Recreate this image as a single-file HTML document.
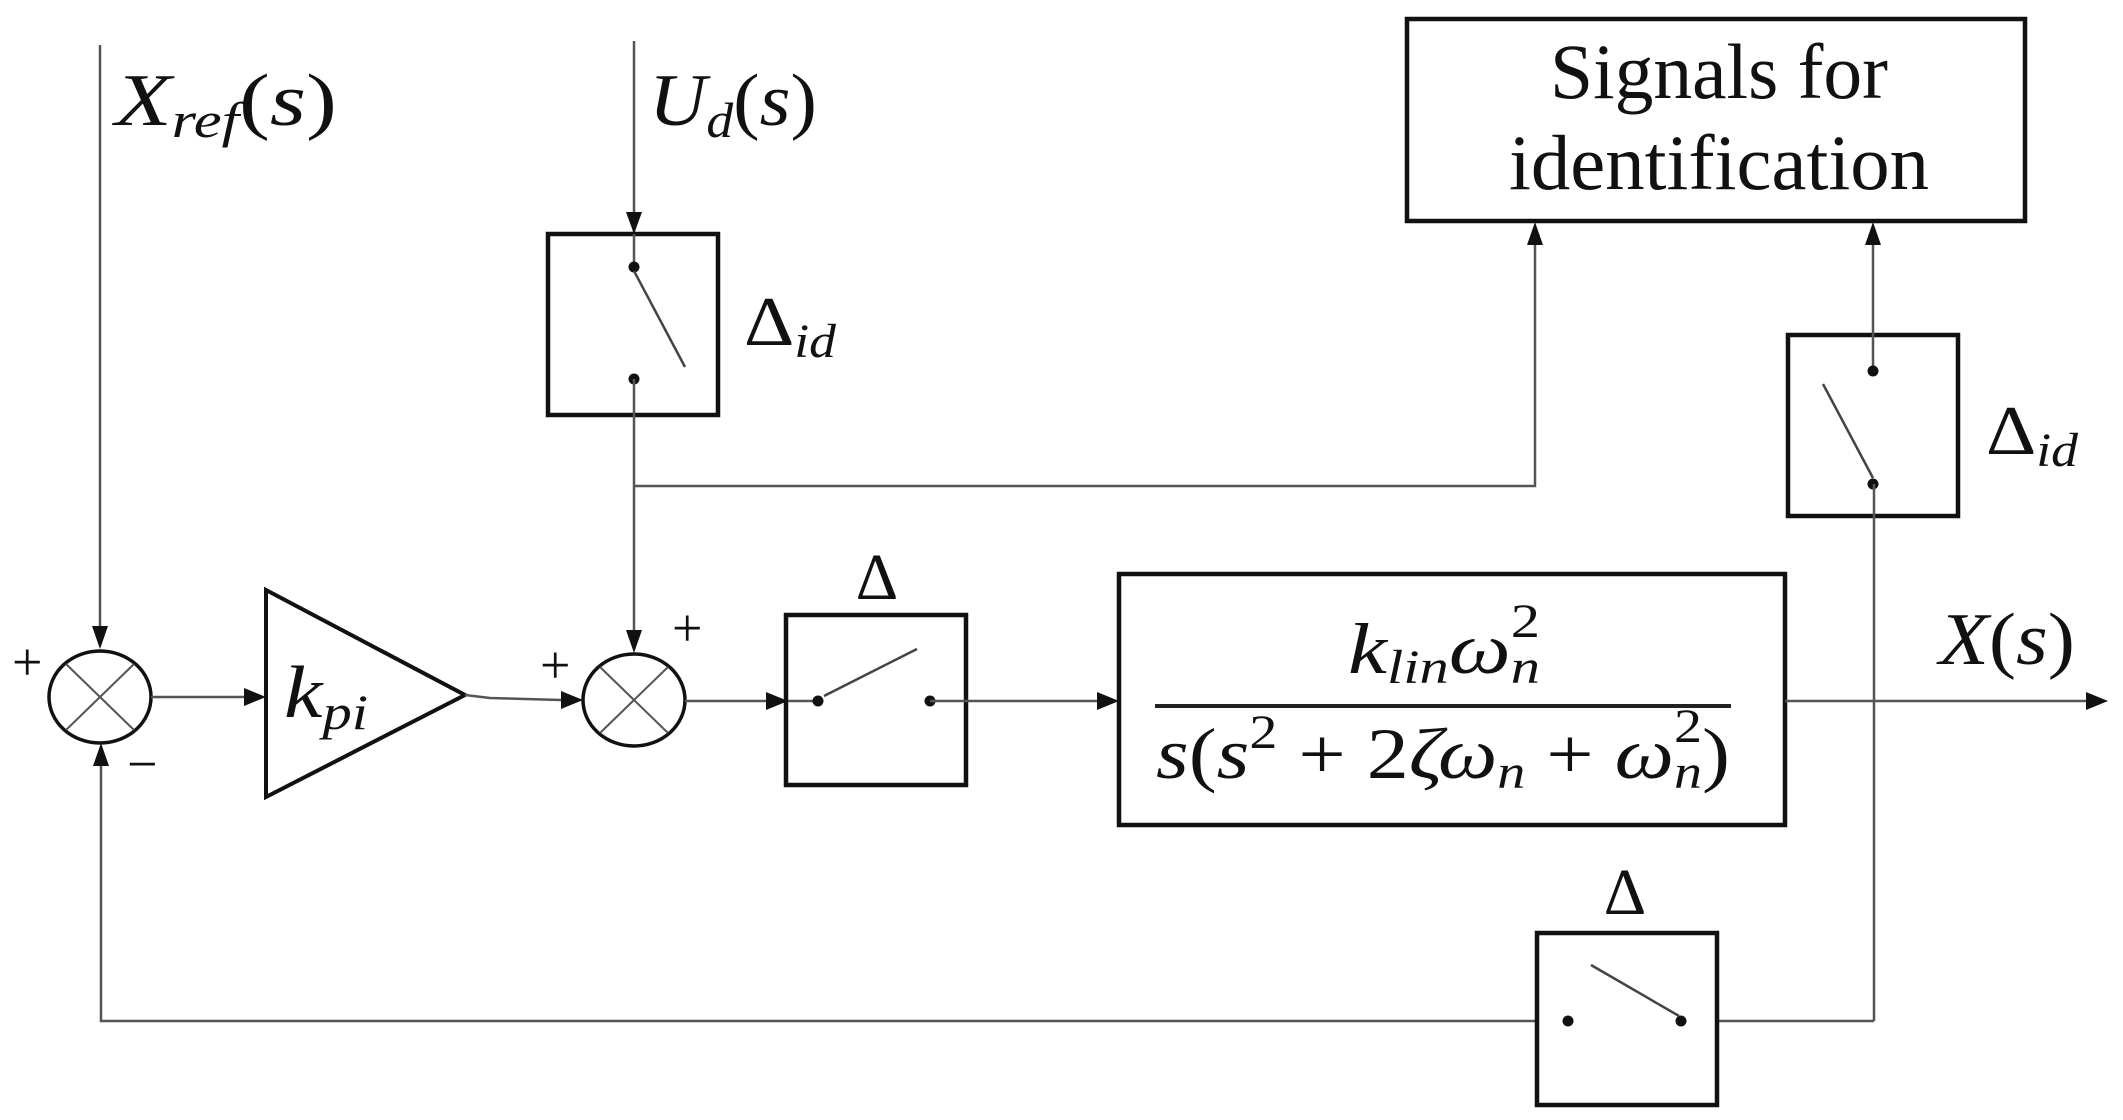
<!DOCTYPE html>
<html><head><meta charset="utf-8"><style>
html,body{margin:0;padding:0;background:#fff;}
svg{display:block;}
.m{font-family:"Liberation Serif","DejaVu Serif",serif;font-style:italic;fill:#111;}
.r{font-family:"Liberation Serif","DejaVu Serif",serif;fill:#111;}
.t{stroke:#555;stroke-width:2.5;fill:none;}
.b{stroke:#111;stroke-width:4.5;fill:#fff;}
.th{stroke:#111;stroke-width:4;fill:none;}
</style></head><body>
<svg width="2123" height="1120" viewBox="0 0 2123 1120" xmlns="http://www.w3.org/2000/svg">
<line class="t" x1="100" y1="45" x2="100" y2="630"/>
<path d="M92,626 L108,626 L100,649 z" fill="#111"/>
<line class="t" x1="634" y1="41" x2="634" y2="234"/>
<path d="M626,212 L642,212 L634,234 z" fill="#111"/>
<!-- Ud switch -->
<rect class="b" x="548" y="234" width="170" height="181"/>
<line class="t" x1="634" y1="234" x2="634" y2="267"/>
<circle cx="634" cy="267" r="5.5" fill="#111"/>
<circle cx="634" cy="379" r="5.5" fill="#111"/>
<line x1="634" y1="271" x2="685" y2="367" stroke="#444" stroke-width="2.5"/>
<line class="t" x1="634" y1="379" x2="634" y2="632"/>
<path d="M626,630 L642,630 L634,653 z" fill="#111"/>
<!-- tap to signals -->
<polyline class="t" points="634,486 1535,486 1535,240"/>
<path d="M1527,245 L1543,245 L1535,222 z" fill="#111"/>
<!-- signals box -->
<rect class="b" x="1407" y="19" width="618" height="202"/>
<text class="r" x="1719" y="98" font-size="78" text-anchor="middle" textLength="338" lengthAdjust="spacingAndGlyphs">Signals for</text>
<text class="r" x="1719" y="189" font-size="78" text-anchor="middle" textLength="420" lengthAdjust="spacingAndGlyphs">identification</text>
<!-- right switch -->
<rect class="b" x="1788" y="335" width="170" height="181"/>
<line class="t" x1="1873" y1="240" x2="1873" y2="371"/>
<path d="M1865,245 L1881,245 L1873,222 z" fill="#111"/>
<circle cx="1873" cy="371" r="5.5" fill="#111"/>
<circle cx="1873" cy="484" r="5.5" fill="#111"/>
<line x1="1823" y1="384" x2="1873" y2="478" stroke="#444" stroke-width="2.5"/>
<line class="t" x1="1874" y1="484" x2="1874" y2="1021"/>
<text class="m" x="1986" y="454" font-size="70" textLength="92" lengthAdjust="spacingAndGlyphs"><tspan font-style="normal">Δ</tspan><tspan font-size="48" dy="12">id</tspan></text>
<text class="m" x="744" y="345" font-size="70" textLength="92" lengthAdjust="spacingAndGlyphs"><tspan font-style="normal">Δ</tspan><tspan font-size="48" dy="12">id</tspan></text>
<!-- labels -->
<text class="m" x="115" y="125" font-size="74" textLength="222" lengthAdjust="spacingAndGlyphs">X<tspan font-size="50" dy="12">ref</tspan><tspan dy="-12" font-style="normal">(</tspan>s<tspan font-style="normal">)</tspan></text>
<text class="m" x="649" y="125" font-size="74" textLength="168" lengthAdjust="spacingAndGlyphs">U<tspan font-size="50" dy="12">d</tspan><tspan dy="-12" font-style="normal">(</tspan>s<tspan font-style="normal">)</tspan></text>
<!-- sum1 -->
<ellipse class="th" cx="100" cy="697" rx="51" ry="46" style="stroke-width:3.5"/>
<line x1="66" y1="664" x2="134" y2="730" stroke="#555" stroke-width="2"/>
<line x1="134" y1="664" x2="66" y2="730" stroke="#555" stroke-width="2"/>
<text class="r" x="12" y="680" font-size="54">+</text>
<text class="r" x="127" y="782" font-size="54">−</text>
<!-- feedback -->
<polyline class="t" points="1681,1021 1874,1021"/>
<polyline class="t" points="1568,1021 101,1021 101,760"/>
<path d="M93,766 L109,766 L101,743 z" fill="#111"/>
<!-- sum1 -> gain -->
<line class="t" x1="151" y1="697" x2="246" y2="697"/>
<path d="M244,688 L266,697 L244,706 z" fill="#111"/>
<polygon class="th" points="266,590 465,695 266,797" style="fill:#fff"/>
<text class="m" x="284" y="717" font-size="74" textLength="84" lengthAdjust="spacingAndGlyphs">k<tspan font-size="50" dy="12">pi</tspan></text>
<!-- gain -> sum2 -->
<polyline class="t" points="465,695 490,698 561,700"/>
<path d="M561,691 L583,700 L561,709 z" fill="#111"/>
<ellipse class="th" cx="634" cy="700" rx="51" ry="46" style="stroke-width:3.5"/>
<line x1="600" y1="667" x2="668" y2="733" stroke="#555" stroke-width="2"/>
<line x1="668" y1="667" x2="600" y2="733" stroke="#555" stroke-width="2"/>
<text class="r" x="540" y="683" font-size="54">+</text>
<text class="r" x="672" y="646" font-size="54">+</text>
<!-- sum2 -> delta switch -->
<line class="t" x1="685" y1="701" x2="768" y2="701"/>
<path d="M766,692 L788,701 L766,710 z" fill="#111"/>
<rect class="b" x="786" y="615" width="180" height="170"/>
<line class="t" x1="788" y1="701" x2="818" y2="701"/>
<circle cx="818" cy="701" r="5.5" fill="#111"/>
<circle cx="930" cy="701" r="5.5" fill="#111"/>
<line x1="824" y1="696" x2="917" y2="649" stroke="#444" stroke-width="2.5"/>
<text class="r" x="877" y="599" font-size="66" text-anchor="middle">Δ</text>
<line class="t" x1="930" y1="701" x2="1100" y2="701"/>
<path d="M1097,692 L1119,701 L1097,710 z" fill="#111"/>
<!-- plant -->
<rect class="b" x="1119" y="574" width="666" height="251"/>
<line x1="1155" y1="706" x2="1731" y2="706" stroke="#222" stroke-width="4"/>
<text class="m" x="1348" y="673" font-size="72" textLength="192" lengthAdjust="spacingAndGlyphs">k<tspan font-size="48" dy="10">lin</tspan><tspan dy="-10">ω</tspan><tspan font-size="48" dy="10">n</tspan><tspan font-size="48" font-style="normal" dx="-24" dy="-46">2</tspan></text>
<text class="m" x="1156" y="778" font-size="72" textLength="574" lengthAdjust="spacingAndGlyphs">s<tspan font-style="normal">(</tspan>s<tspan font-size="48" font-style="normal" dy="-30">2</tspan><tspan font-style="normal" dy="30"> + 2</tspan>ζω<tspan font-size="48" dy="10">n</tspan><tspan font-style="normal" dy="-10"> + </tspan>ω<tspan font-size="48" dy="10">n</tspan><tspan font-size="48" font-style="normal" dx="-24" dy="-46">2</tspan><tspan font-style="normal" dy="36">)</tspan></text>
<!-- output -->
<line class="t" x1="1785" y1="701" x2="2088" y2="701"/>
<path d="M2086,692 L2108,701 L2086,710 z" fill="#111"/>
<text class="m" x="1939" y="664" font-size="74" textLength="136" lengthAdjust="spacingAndGlyphs">X<tspan font-style="normal">(</tspan>s<tspan font-style="normal">)</tspan></text>
<!-- bottom switch -->
<rect class="b" x="1537" y="933" width="180" height="172"/>
<circle cx="1568" cy="1021" r="5.5" fill="#111"/>
<circle cx="1681" cy="1021" r="5.5" fill="#111"/>
<line x1="1591" y1="965" x2="1679" y2="1016" stroke="#444" stroke-width="2.5"/>
<text class="r" x="1625" y="914" font-size="66" text-anchor="middle">Δ</text>
</svg>
</body></html>
